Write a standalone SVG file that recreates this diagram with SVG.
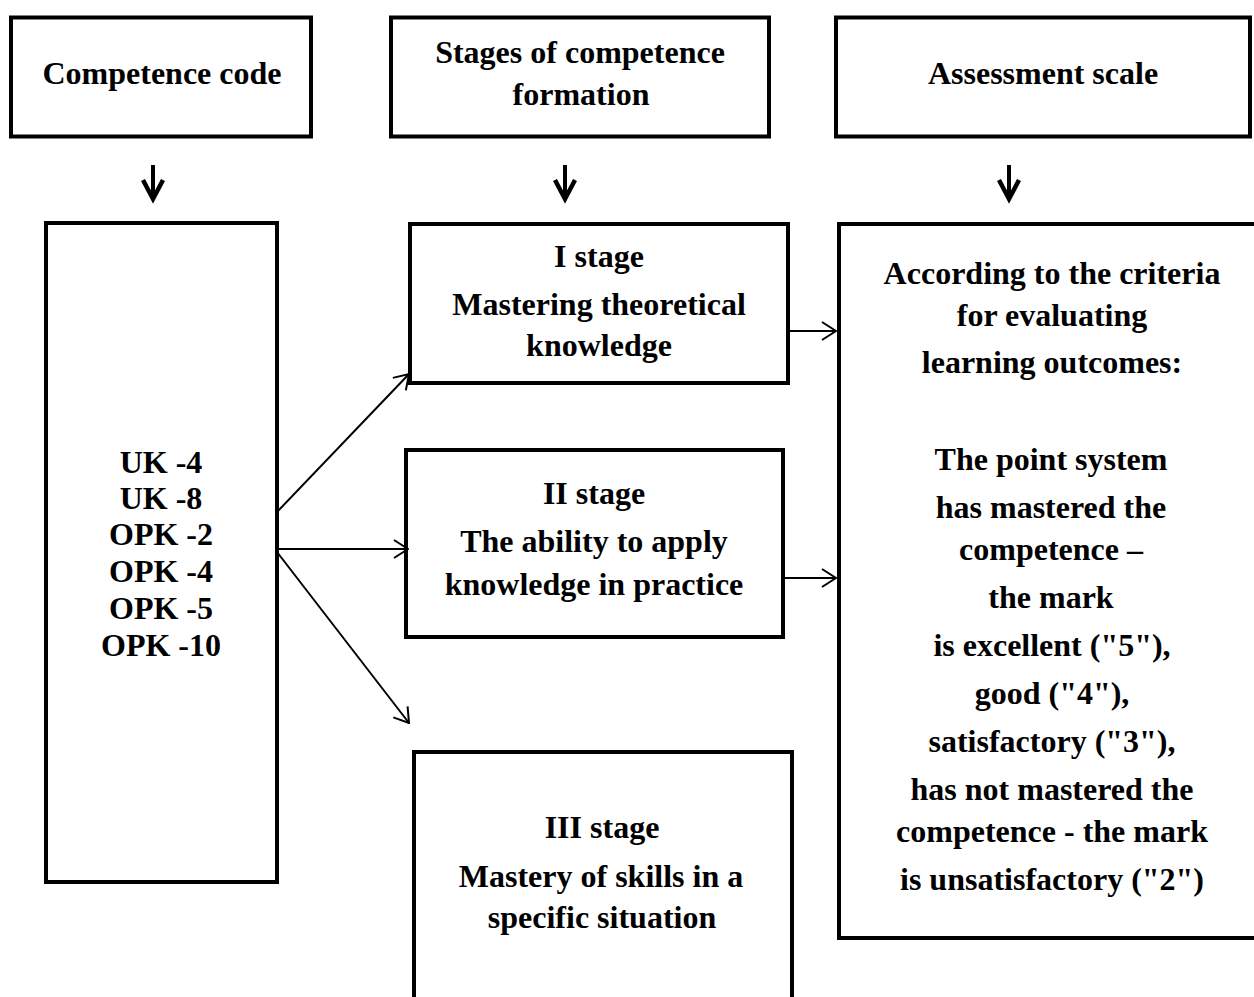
<svg xmlns="http://www.w3.org/2000/svg" width="1254" height="997" viewBox="0 0 1254 997">
<style>
.box{fill:#fff;stroke:#000;stroke-width:4}
.t{font-family:"Liberation Serif","Times New Roman",serif;font-weight:bold;font-size:32px;fill:#000;text-anchor:middle}
.c{stroke:#000;stroke-width:2;fill:none}
.d{stroke:#000;stroke-width:4;fill:none}
.dh{stroke:#000;stroke-width:4.5;fill:none;stroke-linejoin:miter;stroke-miterlimit:10}
</style>
<defs>
<marker id="ah" viewBox="0 0 16 20" refX="15" refY="10" markerWidth="16" markerHeight="20" markerUnits="userSpaceOnUse" orient="auto">
<path d="M1,1 L15,10 L1,19" fill="none" stroke="#000" stroke-width="2"/>
</marker>
</defs>
<rect width="1254" height="997" fill="#fff"/>
<g id="node-code-header">
<rect class="box" x="11" y="17.5" width="300" height="119"/>
<text class="t" x="162" y="84">Competence code</text>
</g>
<g id="node-stages-header">
<rect class="box" x="391" y="17.5" width="378" height="119"/>
<text class="t" x="580" y="63">Stages of competence</text>
<text class="t" x="581" y="105">formation</text>
</g>
<g id="node-scale-header">
<rect class="box" x="836" y="17.5" width="414" height="119"/>
<text class="t" x="1043" y="84">Assessment scale</text>
</g>
<g id="node-codes">
<rect class="box" x="46" y="223" width="231" height="659"/>
<text class="t" x="161" y="473">UK -4</text>
<text class="t" x="161" y="509">UK -8</text>
<text class="t" x="161" y="545">OPK -2</text>
<text class="t" x="161" y="582">OPK -4</text>
<text class="t" x="161" y="619">OPK -5</text>
<text class="t" x="161" y="656">OPK -10</text>
</g>
<g id="node-stage1">
<rect class="box" x="410" y="224" width="378" height="159"/>
<text class="t" x="599" y="267">I stage</text>
<text class="t" x="599" y="315">Mastering theoretical</text>
<text class="t" x="599" y="356">knowledge</text>
</g>
<g id="node-stage2">
<rect class="box" x="406" y="450" width="377" height="187"/>
<text class="t" x="594" y="504">II stage</text>
<text class="t" x="594" y="552">The ability to apply</text>
<text class="t" x="594" y="595">knowledge in practice</text>
</g>
<g id="node-stage3">
<rect class="box" x="414" y="752" width="378" height="270"/>
<text class="t" x="602" y="838">III stage</text>
<text class="t" x="601" y="887">Mastery of skills in a</text>
<text class="t" x="602" y="928">specific situation</text>
</g>
<g id="node-scale">
<rect class="box" x="839" y="224" width="430" height="714"/>
<text class="t" x="1052" y="284">According to the criteria</text>
<text class="t" x="1052" y="326">for evaluating</text>
<text class="t" x="1052" y="373">learning outcomes:</text>
<text class="t" x="1051" y="470">The point system</text>
<text class="t" x="1051" y="518">has mastered the</text>
<text class="t" x="1051" y="560">competence –</text>
<text class="t" x="1051" y="608">the mark</text>
<text class="t" x="1052" y="656">is excellent ("5"),</text>
<text class="t" x="1052" y="704">good ("4"),</text>
<text class="t" x="1052" y="752">satisfactory ("3"),</text>
<text class="t" x="1052" y="800">has not mastered the</text>
<text class="t" x="1052" y="842">competence - the mark</text>
<text class="t" x="1052" y="890">is unsatisfactory ("2")</text>
</g>
<g id="connectors">
<line class="d" x1="153" y1="165" x2="153" y2="198"/>
<path class="dh" d="M143,180 L153,199 L163,180"/>
<line class="d" x1="565" y1="165" x2="565" y2="198"/>
<path class="dh" d="M555,180 L565,199 L575,180"/>
<line class="d" x1="1009" y1="165" x2="1009" y2="198"/>
<path class="dh" d="M999,180 L1009,199 L1019,180"/>
<line class="c" x1="277" y1="512" x2="409" y2="374" marker-end="url(#ah)"/>
<line class="c" x1="277" y1="549" x2="408" y2="549" marker-end="url(#ah)"/>
<line class="c" x1="277" y1="552" x2="409" y2="723" marker-end="url(#ah)"/>
<line class="c" x1="789" y1="331" x2="836" y2="331" marker-end="url(#ah)"/>
<line class="c" x1="785" y1="578" x2="836" y2="578" marker-end="url(#ah)"/>
</g>
</svg>
